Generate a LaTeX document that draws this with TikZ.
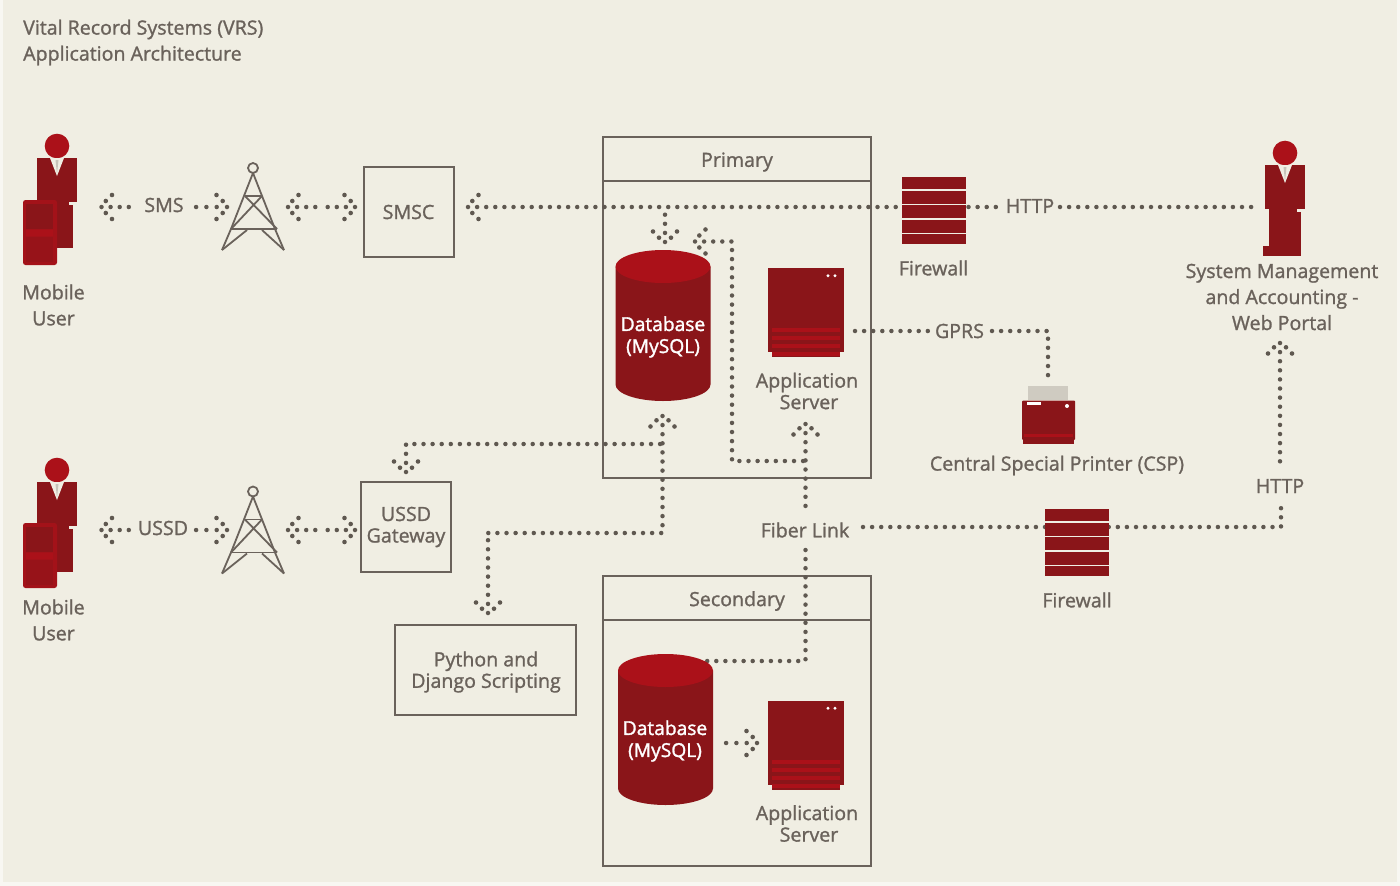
\documentclass[tikz,border=0pt]{standalone}
\usepackage{fontspec}
\setmainfont{Open Sans}
\definecolor{bgc}{HTML}{F0EEE3}
\definecolor{marg}{HTML}{F8F7F2}
\definecolor{ink}{HTML}{6A625B}
\definecolor{dot}{HTML}{5F5850}
\definecolor{dark}{HTML}{8A1519}
\definecolor{bright}{HTML}{AB1119}
\tikzset{
  dotline/.style={draw=dot,line width=4.5pt,line cap=round,dash pattern=on 0pt off 9.1pt},
  dotwide/.style={dotline,dash pattern=on 0pt off 10.3pt},
  lbl/.style={text=ink,font=\fontsize{19.6}{21.5}\selectfont\addfontfeatures{FakeBold=1.2},inner sep=0pt,align=center},
  lblwide/.style={lbl,font=\fontsize{19.6}{26}\selectfont\addfontfeatures{FakeBold=1.2}},
  dblbl/.style={text=white,font=\fontsize{19.2}{22}\selectfont\addfontfeatures{FakeBold=1.6},inner sep=0pt,align=center},
  box/.style={draw=ink,line width=1.8pt,fill=none,inner sep=0pt,outer sep=0pt,anchor=north west},
  towerline/.style={draw=ink,line width=1.8pt,line join=round},
  dhead/.pic={
    \foreach \p in {(4.3,-6),(4.3,6),(10.5,-12),(10.5,12)}{\fill[dot] \p circle (2.3);}
  },
  firewall/.pic={
    \fill[dark] (0,0) rectangle (64,67);
    \foreach \q in {12.2,26.7,41.2,55.7}{\fill[bgc] (0,\q) rectangle (64,\q+1.6);}
  },
  server/.pic={
    \fill[dark] (0,0) rectangle (76,84);
    \fill[dark] (4,84) rectangle (72,89);
    \foreach \q in {59.7,67.7,75.7,83.7}{\fill[bright] (4,\q) rectangle (72,\q+4);}
    \fill[white] (60,7.7) circle (1.6) (67,7.7) circle (1.6);
  },
  tower/.pic={
    \draw[towerline] (0,0) circle (5);
    \draw[towerline] (-31,82) -- (-22,61) -- (0,5) -- (22,61) -- (31,82);
    \draw[towerline] (-8,28) -- (9,28) (-22,61) -- (24,61);
    \draw[towerline] (-8,28) -- (24,61) (9,28) -- (-22,61);
    \draw[towerline] (-31,82) -- (-6,62) (31,82) -- (9,62);
  },
  cyl/.pic={
    \fill[dark] (0,16.5) -- (0,134.5) arc[start angle=180,end angle=0,x radius=47.5,y radius=16.5] -- (95,16.5) -- cycle;
    \fill[bright] (47.5,16.5) ellipse (47.5 and 16.5);
  },
  person/.pic={
    \fill[bright] (0,0) circle (12.3);
    \fill[dark] (-20,12) rectangle (20,56);
    \fill[dark] (-16,56) rectangle (16,102);
    \fill[bgc] (-7,12) -- (7,12) -- (0,30) -- cycle;
    \fill[bgc!70!ink] (-1.5,14) -- (1.5,14) -- (0,28) -- cycle;
    \fill[bgc] (12,56) rectangle (20,58.5);
  },
  phone/.pic={
    \fill[bright!75!dark,rounded corners=2.5] (0,0) rectangle (34,65);
    \fill[dark] (3,4) rectangle (30,29);
    \fill[bright] (3,30) rectangle (30,36);
    \fill[dark!60!bright] (3,37) rectangle (30,62);
  },
}
\begin{document}
\begin{tikzpicture}[x=1pt,y=-1pt]
\useasboundingbox (0,0) rectangle (1400,886);
\fill[marg] (0,0) rectangle (1400,886);
\fill[bgc] (3,0) rectangle (1397,882);

% title
\node[lblwide,align=left,anchor=north west] (title) at (23,19.5) {Vital Record Systems (VRS)\\Application Architecture};

% boxes
\node[box,minimum width=90,minimum height=90] (smsc) at (364,167) {};
\node[lbl] (smsctxt) at (408.5,212) {SMSC};
\node[box,minimum width=90,minimum height=90] (ussd) at (361,482) {};
\node[lbl] (ussdtxt) at (406,527) {USSD\\Gateway};
\node[box,minimum width=181,minimum height=90] (python) at (395,625) {};
\node[lbl] (pytxt) at (486,672) {Python and\\Django Scripting};
\node[box,minimum width=268,minimum height=341] (prim) at (603,137) {};
\draw[draw=ink,line width=1.8pt] (603,181) -- (871,181);
\node[lbl] (primtxt) at (737,162) {Primary};
\node[box,minimum width=268,minimum height=290] (sec) at (603,576) {};
\draw[draw=ink,line width=1.8pt] (603,620) -- (871,620);
\node[lbl] (sectxt) at (737,601) {Secondary};

% named ends of connectors
\coordinate (a1) at (101.5,207);  \coordinate (a1e) at (130,207);
\node[lbl] (sms) at (164,205) {SMS};
\coordinate (a2s) at (195,207);   \coordinate (a2) at (227,207);
\coordinate (a3l) at (288,207);   \coordinate (a3m) at (320,207); \coordinate (a3r) at (355,207);
\coordinate (a4) at (468,207);
\coordinate (a5e) at (1000,207);
\node[lbl] (http1) at (1030,206) {HTTP};
\coordinate (a6s) at (1060,207);  \coordinate (a6e) at (1255,207);
\coordinate (a7s) at (665,207);   \coordinate (a7) at (665,242);
\coordinate (b1) at (695,241.5);  \coordinate (b2) at (732,241.5);
\coordinate (b3) at (732,461);    \coordinate (b4) at (805.5,461);
\coordinate (up1) at (805.5,424); \coordinate (up1e) at (805.5,510);
\node[lbl] (fiber) at (805,530) {Fiber Link};
\coordinate (f1) at (805.5,550);  \coordinate (f2) at (805.5,661); \coordinate (f3) at (706,661);
\coordinate (r1) at (863,527);    \coordinate (r2) at (1281,527);  \coordinate (r3) at (1281,506);
\node[lbl] (http2) at (1280,486) {HTTP};
\coordinate (up2) at (1280,343);  \coordinate (up2e) at (1280,465);
\coordinate (g1) at (855,331);    \coordinate (g2) at (932,331);
\node[lbl] (gprs) at (959.5,331) {GPRS};
\coordinate (g3) at (992,331);    \coordinate (g4) at (1048,331);  \coordinate (g5) at (1048,377);
\coordinate (c1) at (662.5,416);  \coordinate (c2) at (662.5,533); \coordinate (c3) at (488,533); \coordinate (c4) at (488,613);
\coordinate (d1) at (662.5,444);  \coordinate (d2) at (406,444);   \coordinate (d3) at (406,472);
\coordinate (u1) at (101.5,530);  \coordinate (u1e) at (130,530);
\node[lbl] (ussdl) at (163,528) {USSD};
\coordinate (u2s) at (195,530);   \coordinate (u2) at (227,530);
\coordinate (u3l) at (288,530);   \coordinate (u3m) at (320,530); \coordinate (u3r) at (355,530);
\coordinate (s1) at (726,743);    \coordinate (s2) at (757,743);

% connectors: drawn from the arrow tip, so that dots fall on the head
\draw[dotline] (a1) -- (a1e);
\draw[dotwide] (a2) -- (a2s);
\draw[dotline] (a3l) -- (a3m);
\draw[dotline] (a3r) -- (a3m);
\draw[dotline] (a4) -- (a5e);
\draw[dotline] (a6s) -- (a6e);
\draw[dotline] (a7) -- (a7s);
\draw[dotline] (b1) -- (b2) -- (b3) -- (b4);
\draw[dotline] (up1) -- (up1e);
\draw[dotline] (f1) -- (f2) -- (f3);
\draw[dotline] (r1) -- (r2) -- (r3);
\draw[dotline] (up2) -- (up2e);
\draw[dotline] (g1) -- (g2);
\draw[dotline] (g3) -- (g4) -- (g5);
\draw[dotline] (c1) -- (c2) -- (c3);
\draw[dotline] (c4) -- (c3);
\draw[dotline] (d3) -- (d2) -- (d1);
\draw[dotline] (u1) -- (u1e);
\draw[dotwide] (u2) -- (u2s);
\draw[dotline] (u3l) -- (u3m);
\draw[dotline] (u3r) -- (u3m);
\draw[dotwide] (s2) -- (s1);

% arrow heads
\pic at (a1) {dhead};
\pic[rotate=180] at (a2) {dhead};
\pic at (a3l) {dhead};
\pic[rotate=180] at (a3r) {dhead};
\pic at (a4) {dhead};
\pic[rotate=90] at (a7) {dhead};
\pic at (b1) {dhead};
\pic[rotate=-90] at (up1) {dhead};
\pic[rotate=-90] at (up2) {dhead};
\pic[rotate=-90] at (c1) {dhead};
\pic[rotate=90] at (c4) {dhead};
\pic[rotate=90] at (d3) {dhead};
\pic at (u1) {dhead};
\pic[rotate=180] at (u2) {dhead};
\pic at (u3l) {dhead};
\pic[rotate=180] at (u3r) {dhead};
\pic[rotate=180] at (s2) {dhead};

% icons
\pic at (57,146) {person};
\pic at (23,200) {phone};
\node[lblwide] (mu1) at (53.5,305) {Mobile\\User};
\pic at (57,470) {person};
\pic at (23,523) {phone};
\node[lblwide] (mu2) at (53.5,620) {Mobile\\User};
\pic at (253,168) {tower};
\pic at (253,491.5) {tower};

\pic at (615.5,250) {cyl};
\node[dblbl] (db1) at (663,337) {Database\\(MySQL)};
\pic at (618,654) {cyl};
\node[dblbl] (db2) at (665,741) {Database\\(MySQL)};
\pic at (768,268) {server};
\node[lbl] (as1) at (807,391) {Application\\\hspace*{4pt}Server};
\pic at (768,700.5) {server};
\node[lbl] (as2) at (807,823.5) {Application\\\hspace*{4pt}Server};

\pic at (902,177) {firewall};
\node[lbl] (fwl1) at (933.5,268) {Firewall};
\pic at (1045,509) {firewall};
\node[lbl] (fwl2) at (1077,600) {Firewall};

% portal user
\pic at (1285,153) {person};
\fill[dark] (1263,246) rectangle (1270,256);
\fill[dark] (1269,246) rectangle (1301,256);
\node[lblwide] (portal) at (1282,297) {System Management\\and Accounting -\\Web Portal};

% printer
\fill[ink!25!bgc] (1028,386) rectangle (1068,400);
\fill[dark,rounded corners=1] (1022,400.5) rectangle (1075,440);
\fill[dark] (1023,439) rectangle (1074,443.5);
\fill[bright] (1024,434) rectangle (1073,437);
\fill[white] (1027,402) rectangle (1041,405);
\fill[white] (1067,406) circle (2);
\node[lbl] (csp) at (1057,465.5) {Central Special Printer (CSP)};
\end{tikzpicture}
\end{document}
